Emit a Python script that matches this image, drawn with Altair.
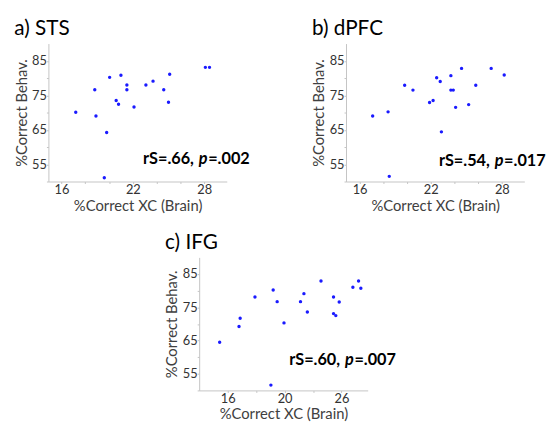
import altair as alt
import pandas as pd

# ---- data ----
sts_x = [17.2, 18.8, 18.9, 19.8, 19.6, 20.05, 20.6, 20.8, 21.0, 21.5, 21.5, 22.1, 23.1, 23.7, 24.6, 25.0, 25.1, 28.1, 28.45]
sts_y = [70.1, 76.6, 69.0, 64.2, 51.1, 80.2, 73.5, 72.4, 80.8, 78.0, 76.6, 71.6, 78.0, 79.1, 76.6, 73.0, 81.1, 83.1, 83.1]

dpfc_x = [17.1, 18.4, 18.5, 19.8, 20.5, 21.9, 22.2, 22.5, 22.8, 22.9, 23.7, 23.7, 23.9, 24.1, 24.6, 25.2, 25.8, 27.1, 28.2]
dpfc_y = [69.0, 70.2, 51.5, 77.9, 76.5, 72.9, 73.5, 80.1, 79.0, 64.4, 80.7, 76.5, 76.5, 71.5, 82.8, 72.3, 77.9, 82.8, 80.9]

ifg_x = [15.3, 17.0, 17.1, 18.4, 19.8, 20.0, 20.35, 20.95, 22.4, 22.7, 23.0, 24.2, 25.3, 25.3, 25.5, 25.8, 27.0, 27.5, 27.7]
ifg_y = [64.5, 69.2, 71.7, 78.1, 51.6, 80.2, 76.7, 70.3, 76.7, 79.1, 73.6, 82.9, 78.1, 73.1, 72.5, 76.6, 81.0, 82.9, 80.7]

titles = ["a) STS", "b) dPFC", "c) IFG"]
ann_rs = ["rS=.66,", "rS=.54,", "rS=.60,"]
ann_p = ["=.002", "=.017", "=.007"]
ann_xy = [(27.55, 55.1), (27.4, 54.6), (26.31, 57.5)]

y_ticks = [50, 55, 60, 65, 70, 75, 80, 85]
y_labels = [55, 65, 75, 85]
ab_x_ticks = [16, 18, 20, 22, 24, 26, 28]
ab_x_labels = {16: "16", 22: "22", 28: "28"}
c_x_ticks = [16, 18.5, 21, 23.5, 26, 28.5]
c_x_labels = {16: "16", 21: "20", 26: "26"}

FONT = "Lato"
POINT_COLOR = "#1a1aff"
ANN_SIZE = 16.5


def label_expr(mapping):
    expr = "''"
    for v, lab in reversed(list(mapping.items())):
        expr = f"datum.value == {v} ? '{lab}' : ({expr})"
    return expr


def panel(xs, ys, title, xdom, ydom, w, h, xticks, xlabels, rs, pv, axy):
    df = pd.DataFrame({"x": xs, "y": ys})
    xscale = alt.Scale(domain=xdom, nice=False, zero=False)
    yscale = alt.Scale(domain=ydom, nice=False, zero=False)
    xaxis = alt.Axis(values=xticks, labelExpr=label_expr(xlabels), title="%Correct XC (Brain)")
    yaxis = alt.Axis(values=y_ticks, labelExpr=label_expr({v: str(v) for v in y_labels}),
                     title="%Correct Behav.")
    pts = alt.Chart(df).mark_circle(size=12, color=POINT_COLOR, opacity=1).encode(
        x=alt.X("x:Q", scale=xscale, axis=xaxis),
        y=alt.Y("y:Q", scale=yscale, axis=yaxis),
    )
    adf = pd.DataFrame({"x": [axy[0]], "y": [axy[1]], "a": [rs], "p": ["p"], "b": [pv]})
    base = alt.Chart(adf).encode(x=alt.X("x:Q", scale=xscale, axis=xaxis),
                                 y=alt.Y("y:Q", scale=yscale, axis=yaxis))
    t1 = base.mark_text(font=FONT, fontSize=ANN_SIZE, fontWeight="bold", align="right",
                        baseline="alphabetic", dx=-5, color="black").encode(text="a:N")
    t2 = base.mark_text(font=FONT, fontSize=ANN_SIZE, fontWeight="bold", fontStyle="italic",
                        align="left", baseline="alphabetic", color="black").encode(text="p:N")
    t3 = base.mark_text(font=FONT, fontSize=ANN_SIZE, fontWeight="bold", align="left",
                        baseline="alphabetic", dx=9.5, color="black").encode(text="b:N")
    return alt.layer(pts, t1, t2, t3).properties(
        width=w, height=h,
        title=alt.TitleParams(title, anchor="start", frame="bounds", font=FONT, fontSize=21,
                              fontWeight="normal", color="black", offset=5),
    )


a = panel(sts_x, sts_y, titles[0], [14.9, 29.9], [50, 90], 181, 140, ab_x_ticks, ab_x_labels,
          ann_rs[0], ann_p[0], ann_xy[0])
b = panel(dpfc_x, dpfc_y, titles[1], [14.85, 29.9], [50, 90], 181, 140, ab_x_ticks, ab_x_labels,
          ann_rs[1], ann_p[1], ann_xy[1])
c = panel(ifg_x, ifg_y, titles[2], [13.5, 28.3], [50, 90], 171, 135, c_x_ticks, c_x_labels,
          ann_rs[2], ann_p[2], ann_xy[2])

spacer = alt.Chart(pd.DataFrame({"v": [0]})).mark_point(opacity=0).encode(
    x=alt.value(0), y=alt.value(0)).properties(width=98, height=10)

top = alt.hconcat(a, b, spacing=62)
bottom = alt.hconcat(spacer, c, spacing=20)
chart = alt.vconcat(top, bottom, spacing=19).properties(
    autosize=alt.AutoSizeParams(type="none"),
    padding={"left": 41, "top": 33, "right": 508, "bottom": 384},
).configure_view(stroke=None).configure_axis(
    grid=False,
    domainColor="#c4c4c4",
    tickColor="#c4c4c4",
    tickSize=2,
    labelFont=FONT,
    labelFontSize=13,
    labelColor="#333333",
    labelPadding=0,
    labelOverlap=False,
    titleFont=FONT,
    titleFontSize=15,
    titleFontWeight="normal",
    titleColor="#404040",
).configure_axisX(
    titlePadding=2,
).configure_axisY(
    titlePadding=2.5,
)

chart.save("out.html", embed_options={"renderer": "svg", "actions": False})
